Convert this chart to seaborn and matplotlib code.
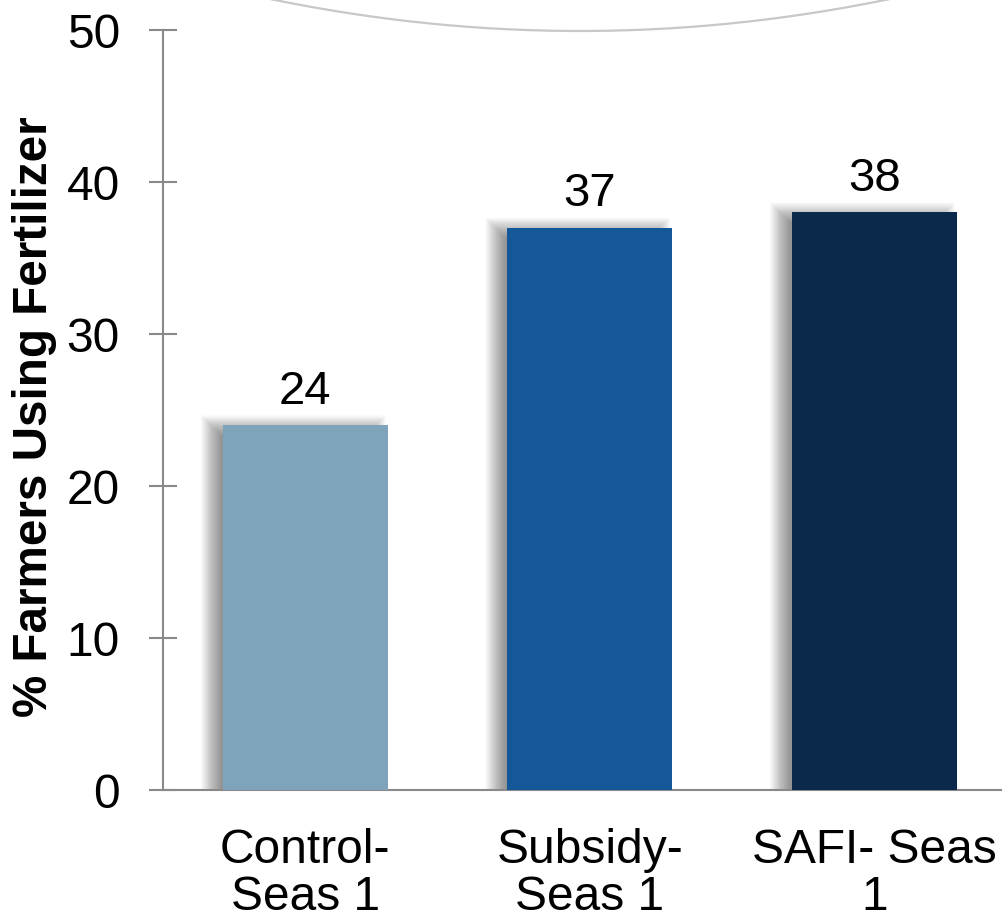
import matplotlib
matplotlib.use("Agg")
import matplotlib.pyplot as plt
from matplotlib.lines import Line2D
import numpy as np
import pandas as pd
import seaborn as sns

# Chart data
categories = ["Control-\nSeas 1", "Subsidy-\nSeas 1", "SAFI- Seas\n1"]
values = [24, 37, 38]
bar_colors = ["#7fa3ba", "#14589a", "#0b2a4b"]
y_ticks = [0, 10, 20, 30, 40, 50]
y_label = "% Farmers Using Fertilizer"

sns.set_theme(style="white")
plt.rcParams["font.family"] = ["Liberation Sans", "DejaVu Sans"]
plt.rcParams["text.color"] = "black"
plt.rcParams["xtick.labelcolor"] = "black"
plt.rcParams["ytick.labelcolor"] = "black"

W, H = 1003, 921
fig = plt.figure(figsize=(W / 100, H / 100), dpi=100)
ax_left, ax_bottom, ax_w, ax_h = 163, 790, 853.5, 760
ax = fig.add_axes([ax_left / W, 1 - ax_bottom / H, ax_w / W, ax_h / H])

df = pd.DataFrame({"group": categories, "pct": values})
bar_width = 0.58
sns.barplot(data=df, x="group", y="pct", hue="group", palette=bar_colors,
            width=bar_width, saturation=1, legend=False, ax=ax, zorder=3,
            linewidth=0)

for cont in ax.containers:
    ax.bar_label(cont, fmt="%d", padding=8, fontsize=34, color="black")

ax.set_xlim(-0.5, len(categories) - 0.5)
ax.set_ylim(y_ticks[0], y_ticks[-1])
ax.set_yticks(y_ticks)

# Soft drop shadow behind each bar: a shifted copy whose edge is feathered
# by stacking translucent layers that shrink and grow around it
px_x = (len(categories)) / ax_w
px_y = (y_ticks[-1] - y_ticks[0]) / ax_h
xpos = np.arange(len(values))
off_x, off_y = -12, 0
radius = 10
n_layers = 30
for e in np.linspace(-radius, radius, n_layers):
    ax.bar(xpos + off_x * px_x, [v + (off_y + e) * px_y for v in values],
           width=bar_width + 2 * e * px_x, bottom=0, color="black",
           alpha=0.016, zorder=1, linewidth=0)

# Axes styling
spine_col = "#898989"
for side in ["top", "right"]:
    ax.spines[side].set_visible(False)
for side in ["left", "bottom"]:
    ax.spines[side].set_color(spine_col)
    ax.spines[side].set_linewidth(1.5)
ax.tick_params(axis="y", direction="inout", length=20, width=1.5,
               color=spine_col, labelsize=34.5, labelcolor="black",
               pad=21, left=True)
ax.tick_params(axis="x", length=0, labelsize=34.5, labelcolor="black", pad=27)
for lab in ax.get_xticklabels():
    lab.set_linespacing(1.08)
ax.set_xlabel("")
ax.set_ylabel("")
ax.grid(False)

fig.text(35 / W, 1 - 416.5 / H, y_label, rotation=90, ha="center",
         va="center", fontsize=34.3, fontweight="bold", color="black")

# Decorative light arc along the top edge
xs = np.linspace(250, 910, 200)
ys = 31 - 31 / 305 ** 2 * (xs - 580) ** 2
fig.add_artist(Line2D(xs / W, 1 - ys / H, transform=fig.transFigure,
                      color="#c8c8c8", linewidth=1.6))

fig.savefig("out.png", dpi=100)
